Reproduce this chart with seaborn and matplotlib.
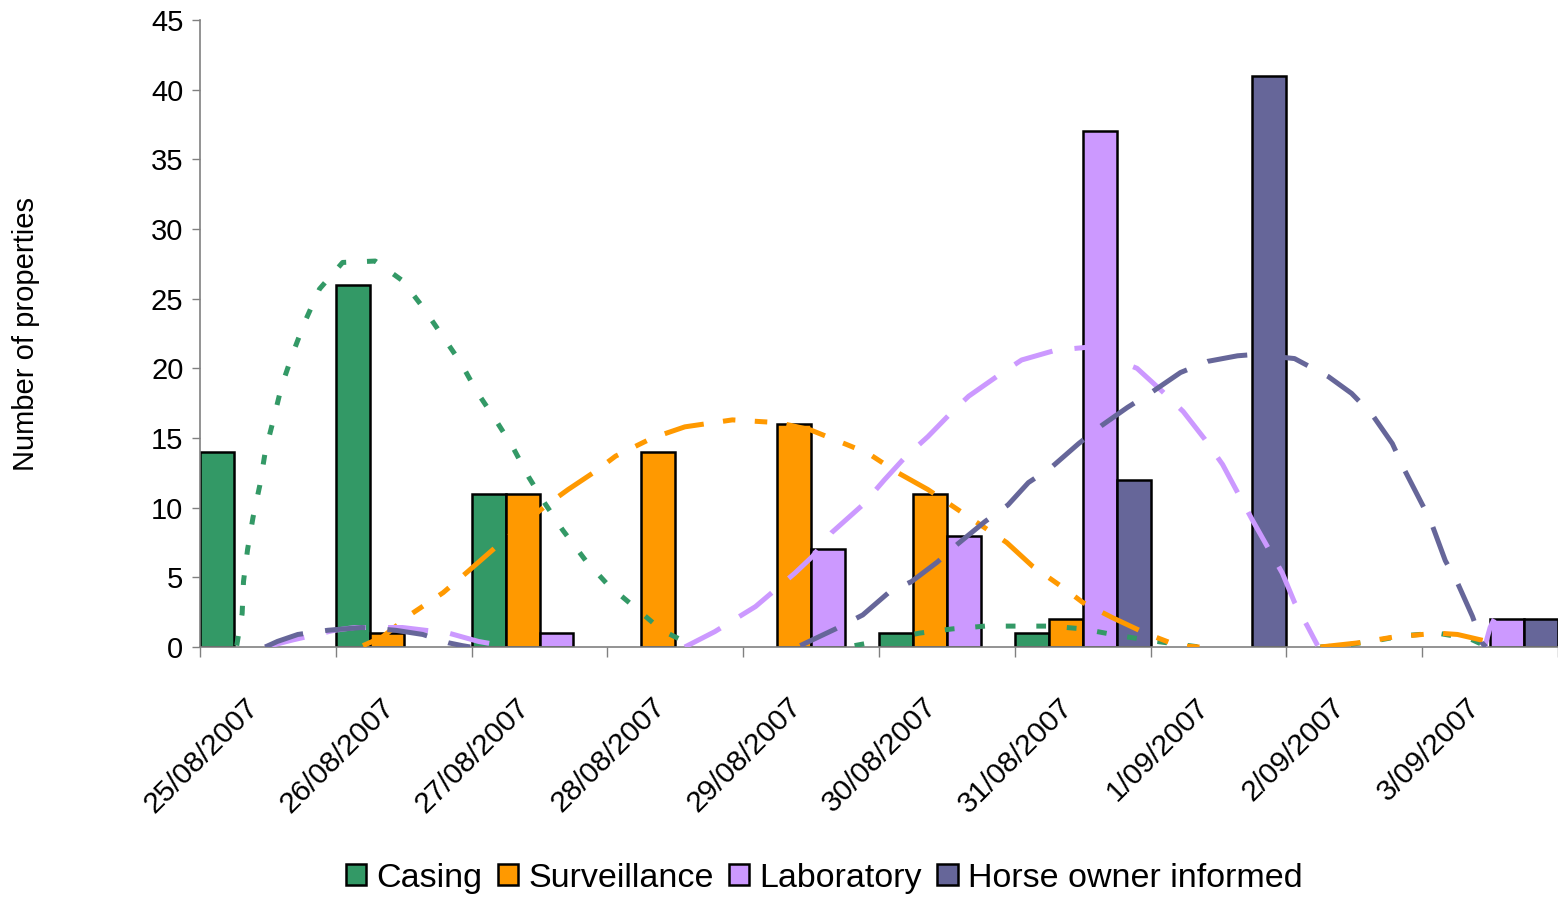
import matplotlib
matplotlib.use("Agg")
import matplotlib.pyplot as plt
import matplotlib.transforms as mtransforms
from matplotlib.patches import Patch
import numpy as np
import pandas as pd
import seaborn as sns

# categories and series
dates = ["25/08/2007", "26/08/2007", "27/08/2007", "28/08/2007", "29/08/2007",
         "30/08/2007", "31/08/2007", "1/09/2007", "2/09/2007", "3/09/2007"]
series = ["Casing", "Surveillance", "Laboratory", "Horse owner informed"]
colors = ["#339966", "#FF9900", "#CC99FF", "#666699"]

# bar values per date
casing = [14, 26, 11, 0, 0, 1, 1, 0, 0, 0]
surveillance = [0, 1, 11, 14, 16, 11, 2, 0, 0, 0]
laboratory = [0, 0, 1, 0, 7, 8, 37, 0, 0, 2]
horse_owner = [0, 0, 0, 0, 0, 0, 12, 41, 0, 2]

# smoothed trend curves (x in category units, 0 = first date)
# None marks the stretches where the curve lies flat on the axis and is not seen
casing_line_x = [-0.23, -0.19, -0.18, -0.15, -0.11, -0.06, -0.02, 0.04, 0.10, 0.18, 0.27, 0.38,
                 0.55, 0.79, 0.99, 1.14, 1.28, 1.42, 1.54, 1.67, 1.80, 1.92, 2.04, 2.17, 2.34,
                 2.50, 2.72, 2.90, 3.15, None, 4.32, 4.54, 4.80, 5.04, 5.28, 5.52, 5.76, 6.00,
                 6.22, 6.47, 6.70, 6.86, None, 7.75, 7.90, 8.13, 8.35, 8.61, 8.85, 8.96]
casing_line_y = [0.1, 2.4, 4.7, 7.0, 9.3, 11.6, 14.0, 16.3, 18.7, 21.0, 23.3, 25.7,
                 27.6, 27.7, 26.3, 24.4, 22.4, 20.4, 18.3, 16.4, 14.4, 12.2, 10.3, 8.4, 6.2,
                 4.5, 2.7, 1.2, 0.0, None, 0.1, 0.5, 1.0, 1.3, 1.5, 1.5, 1.5, 1.3,
                 0.9, 0.5, 0.2, 0.0, None, 0.0, 0.1, 0.4, 0.8, 1.0, 0.6, 0.1]

surveillance_line_x = [0.70, 0.84, 1.06, 1.29, 1.47, 1.67, 2.04, 2.21, 2.41, 2.56, 2.83, 3.07,
                       3.42, 3.76, 3.99, 4.27, 4.42, 4.64, 4.86, 5.12, 5.44, 5.63, 5.85, 6.00,
                       6.22, 6.46, 6.70, 6.86, None, 7.75, 8.03, 8.28, 8.61, 8.76, 8.98, 9.01]
surveillance_line_y = [0.1, 0.7, 2.4, 3.9, 5.4, 7.1, 10.1, 11.3, 12.6, 13.7, 15.0, 15.8,
                       16.3, 16.1, 15.6, 14.5, 13.9, 12.5, 11.3, 9.6, 7.5, 5.8, 4.3, 3.2,
                       2.1, 1.0, 0.1, 0.0, None, 0.0, 0.3, 0.7, 1.0, 0.9, 0.4, 0.0]

laboratory_line_x = [-0.02, 0.18, 0.49, 0.64, 0.99, 1.33, 1.55, 1.78, None, 3.07, 3.29, 3.59,
                     3.88, 4.01, 4.15, 4.38, 4.54, 4.69, 4.86, 5.04, 5.16, 5.38, 5.55, 5.80,
                     6.02, 6.40, 6.58, 6.74, 6.90, 7.03, 7.14, 7.25, 7.36, 7.47, 7.56, 7.66,
                     7.73, None, 8.96, 9.00, 9.03]
laboratory_line_y = [0.0, 0.5, 1.2, 1.4, 1.4, 1.0, 0.4, 0.0, None, 0.0, 1.1, 2.9,
                     5.3, 6.5, 8.2, 10.2, 12.0, 13.6, 15.1, 16.9, 18.0, 19.5, 20.6, 21.3,
                     21.5, 20.0, 18.4, 16.9, 14.9, 13.1, 11.1, 9.1, 7.2, 5.3, 3.2, 1.4,
                     0.1, None, 0.0, 1.4, 2.0]

horse_line_x = [-0.02, 0.07, 0.22, 0.44, 0.69, 0.94, 1.14, 1.33, 1.43, 1.49, None, 3.92,
                4.18, 4.38, 4.57, 4.74, 4.93, 5.08, 5.28, 5.45, 5.60, 5.77, 5.97, 6.14,
                6.33, 6.51, 6.72, 6.92, 7.14, 7.27, 7.56, 7.81, 7.98, 8.13, 8.28, 8.37,
                8.56, 8.67, 8.76, 8.87, 8.94, 8.97]
horse_line_y = [0.0, 0.4, 0.9, 1.2, 1.4, 1.2, 0.9, 0.3, 0.1, 0.0, None, 0.1,
                1.3, 2.3, 3.9, 4.7, 6.1, 7.4, 9.0, 10.2, 11.8, 12.9, 14.6, 15.9,
                17.2, 18.3, 19.7, 20.5, 20.9, 21.0, 20.7, 19.4, 18.2, 16.7, 14.6, 12.7,
                9.1, 6.2, 4.6, 2.2, 0.3, 0.0]

sns.set_style("white")
plt.rcParams["font.family"] = ["Liberation Sans", "DejaVu Sans"]
plt.rcParams["lines.scale_dashes"] = False
plt.rcParams["text.color"] = "black"
plt.rcParams["axes.labelcolor"] = "black"

rows = []
for name, vals in zip(series, [casing, surveillance, laboratory, horse_owner]):
    for d, v in zip(dates, vals):
        if v > 0:
            rows.append({"date": d, "series": name, "count": v})
df = pd.DataFrame(rows)

fig = plt.figure(figsize=(15.58, 8.97), dpi=100)
ax = fig.add_axes([0.1284, 0.2787, 0.8716, 0.699])

sns.barplot(data=df, x="date", y="count", hue="series", order=dates, hue_order=series,
            palette=colors, saturation=1, width=1.0, gap=0, dodge=True,
            edgecolor="black", linewidth=1.8, errorbar=None, legend=False, ax=ax, zorder=2)

line_styles = [
    (casing_line_x, casing_line_y, colors[0], (0, (7, 15))),
    (surveillance_line_x, surveillance_line_y, colors[1], (0, (29, 14, 9, 14, 9, 14))),
    (laboratory_line_x, laboratory_line_y, colors[2], (0, (29, 16))),
    (horse_line_x, horse_line_y, colors[3], (0, (29, 16))),
]
for lx, ly, c, ls in line_styles:
    lx = np.array([np.nan if v is None else v for v in lx], dtype=float)
    ly = np.array([np.nan if v is None else v for v in ly], dtype=float)
    ax.plot(lx, ly, color=c, linestyle=ls, linewidth=3.6, zorder=4,
            dash_capstyle="butt", solid_capstyle="butt")

ax.set_xlim(-0.5, len(dates) - 0.5)
ax.set_ylim(0, 45)
ax.set_yticks(range(0, 46, 5))
ax.tick_params(axis="y", labelsize=21, length=6, width=1, color="#808080",
               labelcolor="black", direction="out", left=True, pad=6)

ax.set_xticks(range(len(dates)))
ax.set_xticklabels(dates, rotation=45, ha="right", va="center", rotation_mode="anchor")
ax.tick_params(axis="x", which="major", length=0, labelsize=21.5, labelcolor="black", pad=40)
ax.set_xticks([i - 0.5 for i in range(len(dates) + 1)], minor=True)
ax.tick_params(axis="x", which="minor", length=7, width=1, color="#808080", direction="out",
               bottom=True)
offset = mtransforms.ScaledTranslation(-14 / 100, 0, fig.dpi_scale_trans)
for lab in ax.get_xticklabels():
    lab.set_transform(lab.get_transform() + offset)

ax.set_xlabel("")
ax.set_ylabel("Number of properties", fontsize=21)
ax.yaxis.set_label_coords(-0.118, 0.5)

for side in ["top", "right"]:
    ax.spines[side].set_visible(False)
for side in ["left", "bottom"]:
    ax.spines[side].set_color("#808080")
    ax.spines[side].set_linewidth(1.2)

handles = [Patch(facecolor=c, edgecolor="black", linewidth=1.8, label=s)
           for s, c in zip(series, colors)]
fig.legend(handles=handles, loc="center", bbox_to_anchor=(0.529, 0.021), ncol=4,
           frameon=False, fontsize=24.5, handlelength=0.6, handleheight=0.6,
           handletextpad=0.3, columnspacing=0.45, borderaxespad=0)

fig.savefig("out.png", dpi=100)
